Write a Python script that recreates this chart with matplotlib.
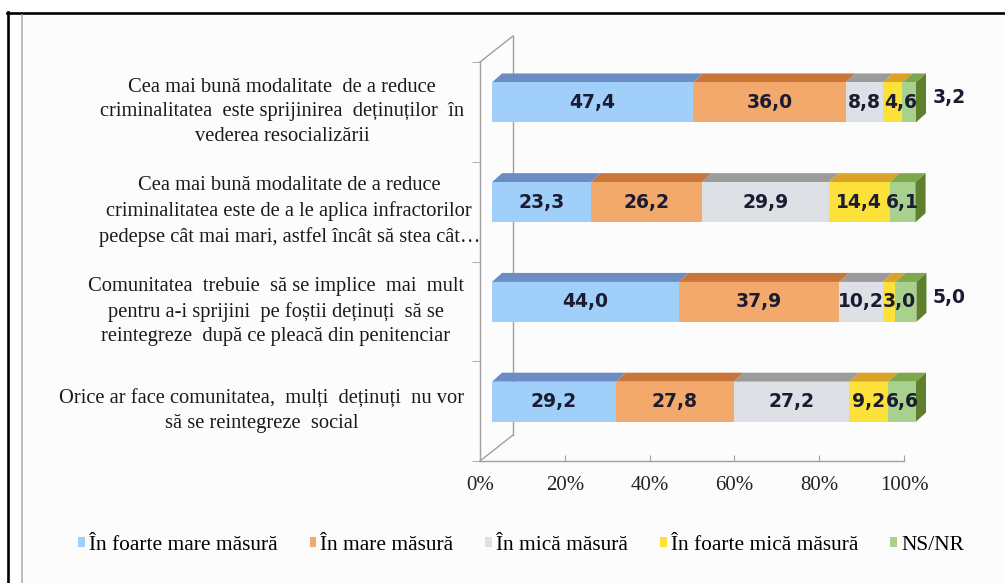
import matplotlib
matplotlib.use('Agg')
import matplotlib.pyplot as plt
import numpy as np
from matplotlib.patches import Polygon, Rectangle, Patch
from matplotlib.lines import Line2D
from matplotlib.transforms import ScaledTranslation, blended_transform_factory
from matplotlib.font_manager import FontProperties

# ---------------- data ----------------
categories = [
    "Cea mai bună modalitate  de a reduce\ncriminalitatea  este sprijinirea  deținuților  în\nvederea resocializării",
    "Cea mai bună modalitate de a reduce\ncriminalitatea este de a le aplica infractorilor\npedepse cât mai mari, astfel încât să stea cât…",
    "Comunitatea  trebuie  să se implice  mai  mult\npentru a-i sprijini  pe foștii deținuți  să se\nreintegreze  după ce pleacă din penitenciar",
    "Orice ar face comunitatea,  mulți  deținuți  nu vor\nsă se reintegreze  social",
]
series_names = ["În foarte mare măsură", "În mare măsură", "În mică măsură",
                "În foarte mică măsură", "NS/NR"]
foarte_mare = [47.4, 23.3, 44.0, 29.2]
mare = [36.0, 26.2, 37.9, 27.8]
mica = [8.8, 29.9, 10.2, 27.2]
foarte_mica = [4.6, 14.4, 3.0, 9.2]
ns_nr = [3.2, 6.1, 5.0, 6.6]
x_ticks = [0, 20, 40, 60, 80, 100]
x_tick_labels = ["0%", "20%", "40%", "60%", "80%", "100%"]
last_label_outside = [True, False, True, False]

series = [foarte_mare, mare, mica, foarte_mica, ns_nr]
front_colors = ["#A0D0FA", "#F3A96B", "#DDE0E5", "#FBE13A", "#A9D18E"]
top_colors = ["#6B8DC3", "#C9763B", "#9B9B9B", "#DAA327", "#7FA84E"]
side_color = "#5E7F2C"
label_color = "#1B1B33"
axis_gray = "#A0A0A0"
# small horizontal nudge (px) of crowded data labels, per series / row
label_nudge_px = {3: [8, 0, 10, 0]}

W, H = 1005, 583
fig = plt.figure(figsize=(W / 100, H / 100), dpi=100)
fig.patch.set_facecolor("white")


def fx(x):
    return x / W


def fy(y):
    return 1 - y / H


# inner background
fig.add_artist(Rectangle((fx(22), 0), 1 - fx(22), fy(15), transform=fig.transFigure,
                         facecolor="#FCFCFC", edgecolor="none", zorder=0))

ax = fig.add_axes([fx(480), fy(461), (904 - 480) / W, (461 - 62) / H])
n = len(categories)
ax.set_xlim(0, 100)
ax.set_ylim(n - 0.5, -0.5)
ax.patch.set_alpha(0)

p0 = ax.transData.transform((0, 0))
p1 = ax.transData.transform((1, 1))
sx = p1[0] - p0[0]
sy = p1[1] - p0[1]

front = ax.transData + ScaledTranslation(12 / 100, 9.5 / 100, fig.dpi_scale_trans)
ddx, ddy = 10 / sx, 9 / sy          # bar depth
wdx, wdy = 33 / sx, 26 / sy         # wall depth

y = np.arange(n)
h = 0.2
lefts = np.zeros(n)
fp_lab = dict(family="DejaVu Sans", weight="bold", size=13.5, color=label_color)

for s, vals in enumerate(series):
    vals = np.array(vals)
    # top faces
    for i in range(n):
        l, r, c = lefts[i], lefts[i] + vals[i], y[i]
        ax.add_patch(Polygon([(l, c - h), (r, c - h), (r + ddx, c - h + ddy), (l + ddx, c - h + ddy)],
                             closed=True, facecolor=top_colors[s], edgecolor="none",
                             transform=front, clip_on=False, zorder=2))
    ax.barh(y, vals, left=lefts, height=2 * h, color=front_colors[s], transform=front,
            clip_on=False, zorder=3)
    for i in range(n):
        txt = f"{vals[i]:.1f}".replace(".", ",")
        if s == len(series) - 1 and last_label_outside[i]:
            ax.text(100, y[i], txt, transform=front + ScaledTranslation(17 / 100, 4.5 / 100, fig.dpi_scale_trans),
                    ha="left", va="center", zorder=6, **fp_lab)
        else:
            nud = label_nudge_px.get(s, [0] * n)[i]
            ax.text(lefts[i] + vals[i] / 2, y[i], txt,
                    transform=front + ScaledTranslation(nud / 100, 0, fig.dpi_scale_trans),
                    ha="center", va="center", zorder=6, **fp_lab)
    lefts = lefts + vals

# right side faces
for i in range(n):
    R, c = lefts[i], y[i]
    ax.add_patch(Polygon([(R, c - h), (R + ddx, c - h + ddy), (R + ddx, c + h + ddy), (R, c + h)],
                         closed=True, facecolor=side_color, edgecolor="none",
                         transform=front, clip_on=False, zorder=4))

# walls
lw_ax = 1.0
ax.add_line(Line2D([0, wdx], [n - 0.5, n - 0.5 + wdy], color=axis_gray, lw=lw_ax, clip_on=False, zorder=1))
ax.add_line(Line2D([wdx, wdx], [n - 0.5 + wdy, -0.5 + wdy], color=axis_gray, lw=lw_ax, clip_on=False, zorder=1))
ax.add_line(Line2D([0, wdx], [-0.5, -0.5 + wdy], color=axis_gray, lw=lw_ax, clip_on=False, zorder=1))

for sp in ["top", "right"]:
    ax.spines[sp].set_visible(False)
for sp in ["left", "bottom"]:
    ax.spines[sp].set_color(axis_gray)
    ax.spines[sp].set_linewidth(lw_ax)

ax.set_xticks(x_ticks)
ax.set_xticklabels(x_tick_labels, family="Liberation Serif", size=15, color="#222222")
ax.tick_params(axis="x", direction="in", length=4, color=axis_gray, pad=11)
ax.set_yticks([])
ax.set_yticks(np.arange(-0.5, n, 1.0), minor=True)
ax.tick_params(axis="y", which="minor", direction="out", length=6, color=axis_gray)
ax.set_xlim(0, 100)
ax.set_ylim(n - 0.5, -0.5)

# category labels
bt = blended_transform_factory(fig.transFigure, ax.transData)
for i, cat in enumerate(categories):
    xr = fx(480) if i == 1 else fx(464)
    ax.text(xr, i, cat, transform=bt, ha="right", va="center", multialignment="center",
            family="Liberation Serif", size=14.8, color="#1A1A1A", linespacing=1.4)

# legend
handles = [Patch(facecolor=c, edgecolor="none") for c in front_colors]
fig.legend(handles, series_names, loc="center", bbox_to_anchor=(fx(521), fy(545)), ncol=5,
           frameon=False, prop=FontProperties(family="Liberation Serif", size=15.4),
           handlelength=0.3, handleheight=0.3, handletextpad=0.2, columnspacing=1.5)

# frame
fig.add_artist(Line2D([fx(7), 1], [fy(12.5), fy(12.5)], color="black", lw=1.9, transform=fig.transFigure))
fig.add_artist(Line2D([fx(7.5), fx(7.5)], [fy(12), 0], color="black", lw=1.9, transform=fig.transFigure))
fig.add_artist(Line2D([fx(22), fx(22)], [fy(15), 0], color="#AAAAAA", lw=1.1, transform=fig.transFigure))

fig.savefig("out.png", dpi=100)
